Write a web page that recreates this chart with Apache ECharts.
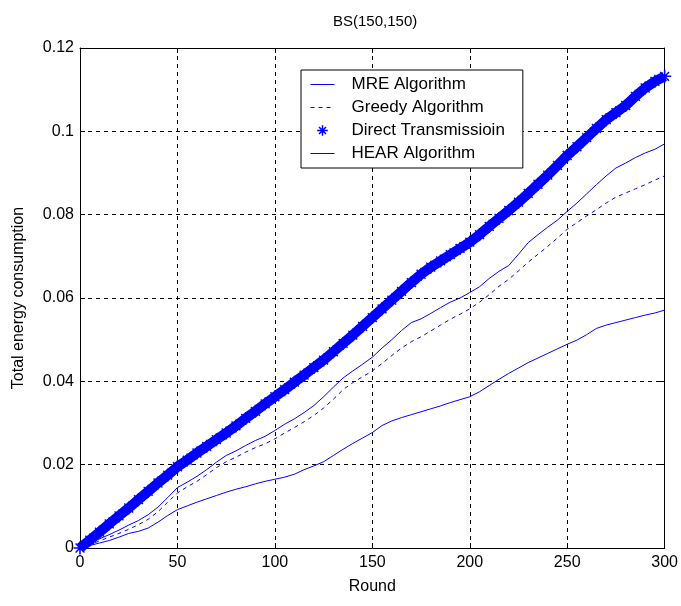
<!DOCTYPE html>
<html>
<head>
<meta charset="utf-8">
<script src="https://cdn.jsdelivr.net/npm/echarts@6/dist/echarts.min.js"></script>
<style>
html,body{margin:0;padding:0;background:#fff;}
#chart{width:681px;height:606px;}
</style>
</head>
<body>
<div id="chart"></div>
<script>
var titleText = 'BS(150,150)';
var xName = 'Round';
var yName = 'Total energy consumption';
var seriesNames = ['MRE Algorithm', 'Greedy Algorithm', 'Direct Transmissioin', 'HEAR Algorithm'];

var rounds = [0,5,10,15,20,25,30,35,40,45,50,55,60,65,70,75,80,85,90,95,100,105,110,115,120,125,130,135,140,145,150,155,160,165,170,175,180,185,190,195,200,205,210,215,220,225,230,235,240,245,250,255,260,265,270,275,280,285,290,295,300];

var mre = [0.0000,0.0011,0.0022,0.0032,0.0043,0.0055,0.0066,0.0080,0.0098,0.0121,0.0145,0.0158,0.0172,0.0188,0.0206,0.0222,0.0233,0.0246,0.0258,0.0268,0.0282,0.0297,0.0310,0.0325,0.0342,0.0363,0.0386,0.0408,0.0425,0.0441,0.0458,0.0480,0.0500,0.0522,0.0541,0.0550,0.0563,0.0577,0.0590,0.0600,0.0613,0.0627,0.0647,0.0664,0.0678,0.0705,0.0733,0.0752,0.0770,0.0787,0.0808,0.0828,0.0850,0.0872,0.0893,0.0912,0.0924,0.0937,0.0948,0.0957,0.0970];

var greedy = [0.0000,0.0008,0.0017,0.0026,0.0035,0.0045,0.0056,0.0069,0.0087,0.0110,0.0132,0.0147,0.0160,0.0176,0.0193,0.0207,0.0218,0.0230,0.0241,0.0250,0.0262,0.0276,0.0289,0.0303,0.0318,0.0336,0.0357,0.0380,0.0397,0.0411,0.0425,0.0443,0.0462,0.0480,0.0495,0.0507,0.0521,0.0535,0.0549,0.0561,0.0574,0.0590,0.0608,0.0628,0.0645,0.0665,0.0686,0.0705,0.0724,0.0744,0.0765,0.0781,0.0797,0.0812,0.0828,0.0842,0.0852,0.0862,0.0872,0.0883,0.0893];

var direct = [0.0000,0.0019,0.0038,0.0058,0.0077,0.0096,0.0116,0.0136,0.0156,0.0175,0.0195,0.0211,0.0228,0.0244,0.0260,0.0276,0.0293,0.0311,0.0328,0.0346,0.0363,0.0380,0.0398,0.0415,0.0433,0.0451,0.0471,0.0491,0.0511,0.0532,0.0553,0.0574,0.0595,0.0616,0.0637,0.0657,0.0674,0.0689,0.0704,0.0719,0.0734,0.0752,0.0772,0.0791,0.0810,0.0830,0.0851,0.0873,0.0895,0.0918,0.0942,0.0963,0.0985,0.1007,0.1028,0.1045,0.1062,0.1084,0.1104,0.1120,0.1132];

var hear = [0.0000,0.0006,0.0012,0.0018,0.0026,0.0035,0.0040,0.0048,0.0062,0.0078,0.0092,0.0101,0.0110,0.0118,0.0126,0.0134,0.0141,0.0147,0.0154,0.0160,0.0165,0.0170,0.0177,0.0188,0.0197,0.0207,0.0222,0.0237,0.0251,0.0264,0.0277,0.0294,0.0305,0.0313,0.0320,0.0327,0.0334,0.0341,0.0349,0.0356,0.0363,0.0375,0.0390,0.0405,0.0419,0.0432,0.0445,0.0456,0.0467,0.0478,0.0489,0.0499,0.0512,0.0527,0.0535,0.0541,0.0547,0.0553,0.0559,0.0564,0.0571];

var xTicks = {min: 0, max: 300, interval: 50};
var yTicks = {min: 0, max: 0.12, interval: 0.02};

function pairs(xs, ys) { return xs.map(function (x, i) { return [x, ys[i]]; }); }

var BLUE = '#0000ff';
var FONT = 'Liberation Sans, Arial, sans-serif';
var STAR = 'path://M4.4,0L5.6,0L5.6,10L4.4,10Z M0,4.4L10,4.4L10,5.6L0,5.6Z M1.2,2L2,1.2L8.8,8L8,8.8Z M8,1.2L8.8,2L2,8.8L1.2,8Z';
var STAR_ICON = 'path://M-3,-3L-2.9,-3L-2.9,-2.9Z M13,13L12.9,13L12.9,12.9Z M4.3,0L5.7,0L5.7,10L4.3,10Z M0,4.3L10,4.3L10,5.7L0,5.7Z M1.2,2.2L2.2,1.2L8.8,7.8L7.8,8.8Z M7.8,1.2L8.8,2.2L2.2,8.8L1.2,7.8Z';

var chart = echarts.init(document.getElementById('chart'), null, {renderer: 'canvas'});
var axisText = {color: '#000', fontFamily: FONT, fontSize: 16};
var hiddenSymbol = {opacity: 0};

var option = {
  backgroundColor: '#fff',
  animation: false,
  title: {
    text: titleText, left: 328, top: 9,
    textStyle: {color: '#000', fontFamily: FONT, fontSize: 15, fontWeight: 'normal'}
  },
  grid: {left: 80, right: 15, top: 48, bottom: 58, containLabel: false, show: false},
  legend: {
    orient: 'vertical', left: 301, top: 70,
    padding: [6, 18, 6, 9], itemGap: 6, itemWidth: 24, itemHeight: 17,
    borderColor: '#000', borderWidth: 1, backgroundColor: '#fff',
    lineStyle: {color: BLUE, width: 1},
    textStyle: {color: '#000', fontFamily: FONT, fontSize: 17, lineHeight: 17, padding: [0, 0, 0, 12]},
    data: [
      {name: seriesNames[0], itemStyle: hiddenSymbol},
      {name: seriesNames[1], itemStyle: hiddenSymbol},
      {name: seriesNames[2], icon: STAR_ICON, itemStyle: {color: BLUE, opacity: 1}},
      {name: seriesNames[3], itemStyle: hiddenSymbol}
    ]
  },
  xAxis: [{
    type: 'value', position: 'bottom', min: xTicks.min, max: xTicks.max, interval: xTicks.interval,
    name: xName, nameLocation: 'middle', nameGap: 31, nameTextStyle: axisText,
    axisLine: {show: true, onZero: false, lineStyle: {color: '#000', width: 1}},
    axisTick: {show: true, inside: true, length: 5, lineStyle: {color: '#000'}},
    axisLabel: {show: true, margin: 7, color: '#000', fontFamily: FONT, fontSize: 16},
    splitLine: {show: true, lineStyle: {color: '#000', type: [4, 4], width: 1}}
  }, {
    type: 'value', position: 'top', min: xTicks.min, max: xTicks.max, interval: xTicks.interval,
    axisLine: {show: true, onZero: false, lineStyle: {color: '#000', width: 1}},
    axisTick: {show: true, inside: true, length: 5, lineStyle: {color: '#000'}},
    axisLabel: {show: false}, splitLine: {show: false}
  }],
  yAxis: [{
    type: 'value', position: 'left', min: yTicks.min, max: yTicks.max, interval: yTicks.interval,
    name: yName, nameLocation: 'middle', nameGap: 53, nameRotate: 90, nameTextStyle: axisText,
    axisLine: {show: true, onZero: false, lineStyle: {color: '#000', width: 1}},
    axisTick: {show: true, inside: true, length: 5, lineStyle: {color: '#000'}},
    axisLabel: {show: true, margin: 6, color: '#000', fontFamily: FONT, fontSize: 16},
    splitLine: {show: true, lineStyle: {color: '#000', type: [4, 4], width: 1}}
  }, {
    type: 'value', position: 'right', min: yTicks.min, max: yTicks.max, interval: yTicks.interval,
    axisLine: {show: true, onZero: false, lineStyle: {color: '#000', width: 1}},
    axisTick: {show: true, inside: true, length: 5, lineStyle: {color: '#000'}},
    axisLabel: {show: false}, splitLine: {show: false}
  }],
  series: [
    {
      name: seriesNames[0], type: 'line', data: pairs(rounds, mre), symbol: 'none',
      color: BLUE, lineStyle: {color: BLUE, width: 1, type: 'solid'}, z: 3
    },
    {
      name: seriesNames[1], type: 'line', data: pairs(rounds, greedy), symbol: 'none',
      color: BLUE, lineStyle: {color: BLUE, width: 1, type: [4, 4]}, z: 3
    },
    {
      name: seriesNames[2], type: 'line', data: pairs(rounds, direct), symbol: STAR, symbolSize: 13,
      showAllSymbol: true, color: BLUE, itemStyle: {color: BLUE},
      lineStyle: {color: BLUE, width: 10}, z: 4
    },
    {
      name: seriesNames[3], type: 'line', data: pairs(rounds, hear), symbol: 'none',
      color: BLUE, lineStyle: {color: BLUE, width: 1, type: 'solid'}, z: 3
    }
  ]
};
chart.setOption(option);
</script>
</body>
</html>
